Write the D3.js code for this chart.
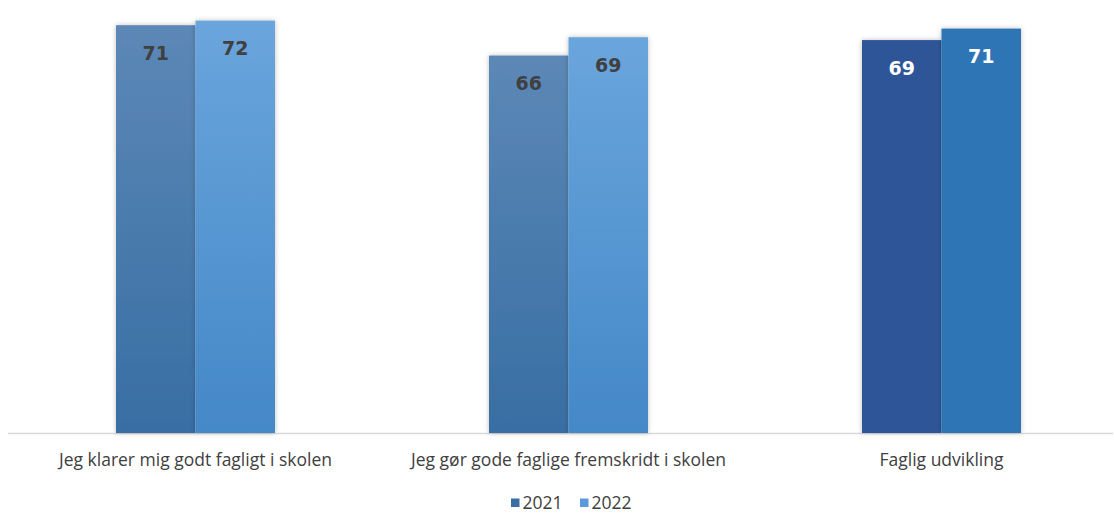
<!DOCTYPE html>
<html><head><meta charset="utf-8">
<script src="https://cdn.jsdelivr.net/npm/d3@7"></script>
<style>body{margin:0;background:#fff}svg{display:block}</style>
</head><body>
<svg id="c" width="1114" height="514"></svg>
<script>
const categories = ["Jeg klarer mig godt fagligt i skolen", "Jeg gør gode faglige fremskridt i skolen", "Faglig udvikling"];
const years = ["2021", "2022"];
const values2021 = [71.2, 65.9, 68.6];
const values2022 = [72.0, 69.1, 70.6];

const svg = d3.select("#c");
const baseY = 433;
const y = d3.scaleLinear().domain([0, 72]).range([baseY, 20.6]);
const x0 = d3.scaleBand().domain(categories).range([9, 1128]).padding(0);
const pairW = 159;
const x1 = d3.scaleBand().domain(years)
  .range([(x0.bandwidth() - pairW) / 2, (x0.bandwidth() + pairW) / 2]).padding(0);

const defs = svg.append("defs");
const f = defs.append("filter").attr("id", "sh").attr("x", "-20%").attr("y", "-5%").attr("width", "140%").attr("height", "110%");
f.append("feDropShadow").attr("dx", 0).attr("dy", 0).attr("stdDeviation", 2.5).attr("flood-color", "#000").attr("flood-opacity", 0.25);

function grad(id, top, bottom) {
  const g = defs.append("linearGradient").attr("id", id).attr("x1", 0).attr("y1", 0).attr("x2", 0).attr("y2", 1);
  g.append("stop").attr("offset", "0%").attr("stop-color", top);
  g.append("stop").attr("offset", "100%").attr("stop-color", bottom);
}
grad("g21", "#5c88b6", "#386ea4");
grad("g22", "#6aa5dc", "#4488c8");

const fills = {
  "2021": (i) => i < 2 ? "url(#g21)" : "#2f5597",
  "2022": (i) => i < 2 ? "url(#g22)" : "#2e75b6"
};
const labelColor = (i) => i < 2 ? "#404040" : "#ffffff";

const data = [];
categories.forEach((c, i) => {
  data.push({cat: c, year: "2021", v: values2021[i], i});
  data.push({cat: c, year: "2022", v: values2022[i], i});
});

svg.append("line").attr("x1", 8).attr("x2", 1113).attr("y1", baseY + 0.5).attr("y2", baseY + 0.5)
  .attr("stroke", "#d9d9d9").attr("stroke-width", 1.5);

const g = svg.append("g");
g.selectAll("rect").data(data).join("rect")
  .attr("x", d => x0(d.cat) + x1(d.year))
  .attr("width", x1.bandwidth())
  .attr("y", d => y(d.v))
  .attr("height", d => baseY - y(d.v))
  .attr("fill", d => fills[d.year](d.i))
  .attr("filter", "url(#sh)");

g.selectAll("text.v").data(data).join("text").attr("class", "v")
  .attr("x", d => x0(d.cat) + x1(d.year) + x1.bandwidth() / 2)
  .attr("y", d => y(d.v) + 34.5)
  .attr("text-anchor", "middle")
  .attr("font-family", "DejaVu Sans")
  .attr("font-weight", "bold")
  .attr("font-size", 19)
  .attr("fill", d => labelColor(d.i))
  .text(d => d3.format(".0f")(d.v));

svg.selectAll("text.cat").data(categories).join("text").attr("class", "cat")
  .attr("x", d => x0(d) + x0.bandwidth() / 2)
  .attr("y", 466)
  .attr("text-anchor", "middle")
  .attr("font-family", "Open Sans")
  .attr("font-size", 17.5)
  .attr("fill", "#404040")
  .text(d => d);

const legendColors = {"2021": "#3a6fa6", "2022": "#5b9bd9"};
const lg = svg.append("g");
const legendX = {"2021": 511, "2022": 580};
years.forEach(yr => {
  lg.append("rect").attr("x", legendX[yr]).attr("y", 498.5).attr("width", 8.5).attr("height", 8.5).attr("fill", legendColors[yr]);
  lg.append("text").attr("x", legendX[yr] + 11.5).attr("y", 508.5)
    .attr("font-family", "Open Sans").attr("font-size", 17.5).attr("fill", "#404040").text(yr);
});
</script>
</body></html>
